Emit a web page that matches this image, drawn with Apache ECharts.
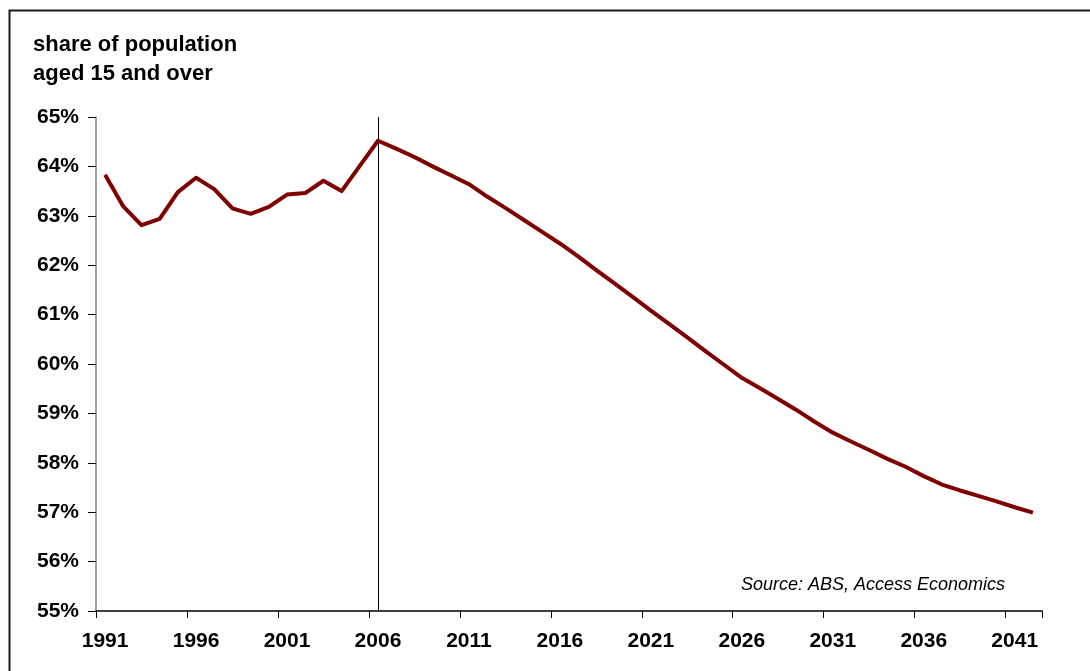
<!DOCTYPE html>
<html>
<head>
<meta charset="utf-8">
<script src="https://cdn.jsdelivr.net/npm/echarts@6/dist/echarts.min.js"></script>
<style>
  html, body { margin: 0; padding: 0; background: #fff; }
  #chart { width: 1090px; height: 671px; }
</style>
</head>
<body>
<div id="chart"></div>
<script>
// Years (categories)
var years = [];
for (var y = 1991; y <= 2042; y++) years.push(String(y));

// Share of population aged 15 and over (%)
var shareValues = [
  63.83, 63.19, 62.81, 62.94, 63.48, 63.77, 63.54, 63.15, 63.04, 63.18,
  63.43, 63.46, 63.71, 63.50, 64.01, 64.52, 64.36, 64.19, 64.00, 63.82,
  63.64, 63.39, 63.16, 62.92, 62.68, 62.44, 62.18, 61.90, 61.63, 61.36,
  61.08, 60.81, 60.54, 60.26, 59.99, 59.72, 59.51, 59.29, 59.07, 58.83,
  58.61, 58.43, 58.26, 58.08, 57.92, 57.73, 57.56, 57.44, 57.33, 57.22,
  57.10, 56.99
];

var markerYear = '2006';
var titleLines = ['share of population', 'aged 15 and over'];
var sourceText = 'Source: ABS, Access Economics';

var FONT = '"Liberation Sans", Arial, sans-serif';

var chart = echarts.init(document.getElementById('chart'), null, { renderer: 'canvas' });
chart.setOption({
  backgroundColor: '#ffffff',
  animation: false,
  title: {
    text: titleLines.join('\n'),
    left: 33,
    top: 30,
    padding: 0,
    textStyle: {
      fontFamily: FONT,
      fontWeight: 'bold',
      fontSize: 22,
      lineHeight: 29,
      color: '#000'
    }
  },
  graphic: [
    {
      type: 'rect',
      shape: { x: 9.5, y: 10.5, width: 1200, height: 800 },
      style: { fill: 'none', stroke: '#1a1a1a', lineWidth: 2 },
      silent: true
    },
    {
      type: 'text',
      right: 85,
      top: 576,
      style: {
        text: sourceText,
        font: 'italic 18px ' + FONT,
        fill: '#000'
      }
    }
  ],
  grid: { left: 96, right: 48, top: 117, bottom: 60, containLabel: false },
  xAxis: {
    type: 'category',
    data: years,
    boundaryGap: true,
    axisLine: { lineStyle: { color: '#000', width: 1.5 } },
    axisTick: { show: true, interval: 4, length: 7, lineStyle: { color: '#000', width: 1 } },
    axisLabel: {
      interval: 4,
      margin: 20,
      fontFamily: FONT,
      fontWeight: 'bold',
      fontSize: 21,
      color: '#000'
    },
    splitLine: { show: false }
  },
  yAxis: {
    type: 'value',
    min: 55,
    max: 65,
    interval: 1,
    axisLine: { show: true, lineStyle: { color: '#808080', width: 1.5 } },
    axisTick: { show: true, length: 8, lineStyle: { color: '#000', width: 1 } },
    axisLabel: {
      formatter: '{value}%',
      margin: 17,
      fontFamily: FONT,
      fontWeight: 'bold',
      fontSize: 21,
      color: '#000'
    },
    splitLine: { show: false }
  },
  series: [
    {
      type: 'line',
      data: shareValues,
      showSymbol: false,
      symbol: 'none',
      lineStyle: { color: '#800000', width: 4, join: 'round' },
      z: 3,
      markLine: {
        silent: true,
        symbol: ['none', 'none'],
        label: { show: false },
        lineStyle: { color: '#000', width: 1, type: 'solid' },
        data: [{ xAxis: markerYear }],
        z: 2
      }
    }
  ]
});
</script>
</body>
</html>
